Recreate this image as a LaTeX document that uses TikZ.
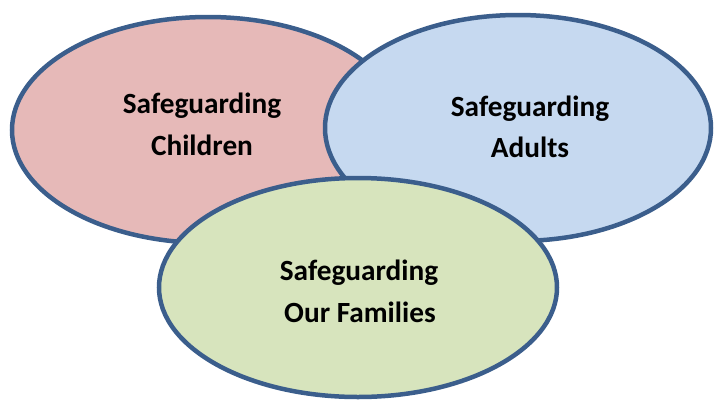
\documentclass[tikz,border=0pt]{standalone}
\usepackage{fontspec}
\setmainfont{Carlito}
\usetikzlibrary{shapes.geometric}
\definecolor{rimblue}{HTML}{3B5E8C}
\definecolor{rosefill}{HTML}{E6B9B8}
\definecolor{skyfill}{HTML}{C6D9F0}
\definecolor{sagefill}{HTML}{D7E4BD}
\tikzset{
  circlezone/.style={ellipse, draw=rimblue, line width=4.5pt, inner sep=0pt},
  zonelabel/.style={anchor=base, inner sep=0pt, font=\fontsize{29.3}{35}\selectfont\bfseries, text=black}
}
\begin{document}
\begin{tikzpicture}[x=1pt, y=-1pt]
  \useasboundingbox (0,0) rectangle (715,400);
  % three overlapping zones, later ones drawn on top
  \node[circlezone, fill=rosefill, minimum width=392pt, minimum height=226pt] (children) at (208,130) {};
  \node[circlezone, fill=skyfill, minimum width=386pt, minimum height=226pt] (adults) at (518,128) {};
  \node[circlezone, fill=sagefill, minimum width=398pt, minimum height=219pt] (families) at (358,287.5) {};
  % labels
  \node[zonelabel] (childrenA) at (202,113) {Safeguarding};
  \node[zonelabel] (childrenB) at (202,155) {Children};
  \node[zonelabel] (adultsA) at (530,116) {Safeguarding};
  \node[zonelabel] (adultsB) at (530,157) {Adults};
  \node[zonelabel] (familiesA) at (359,280) {Safeguarding};
  \node[zonelabel] (familiesB) at (360,322) {Our Families};
\end{tikzpicture}
\end{document}
